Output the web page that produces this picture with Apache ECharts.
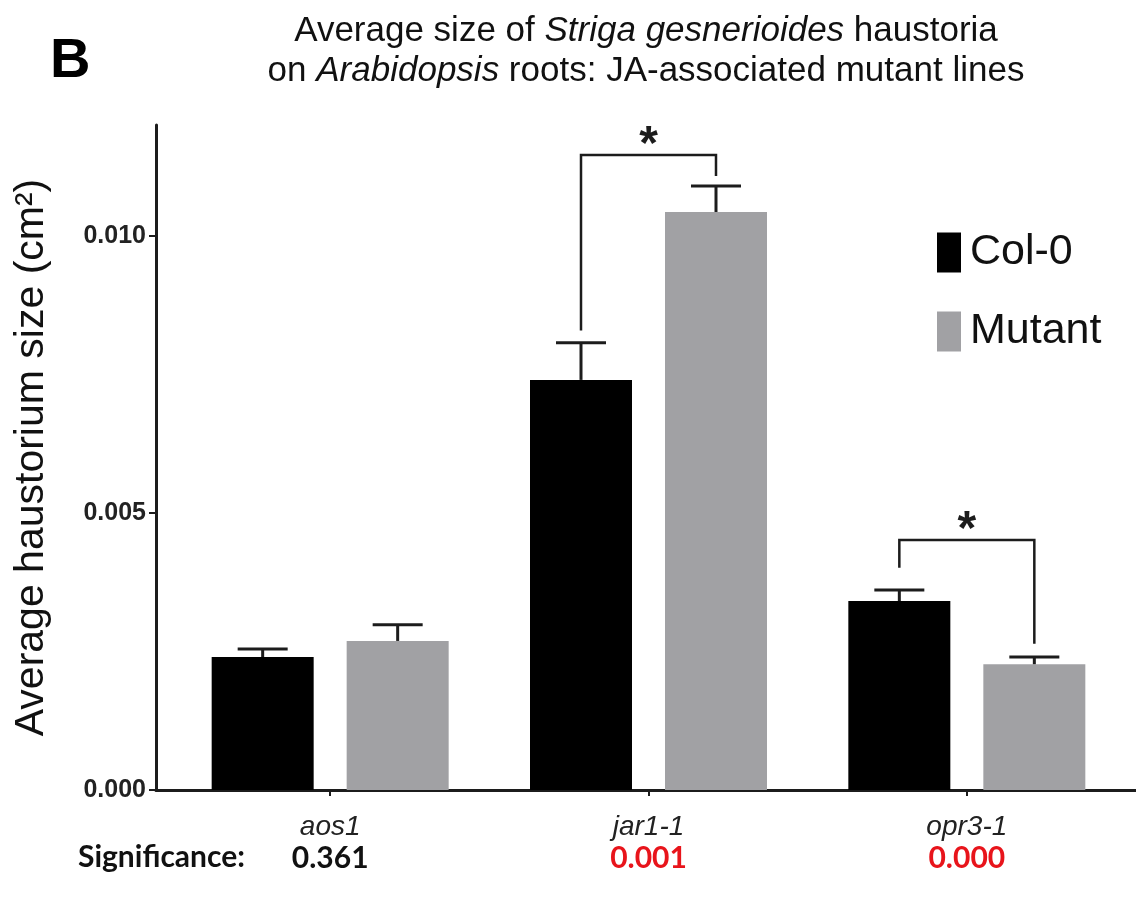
<!DOCTYPE html>
<html>
<head>
<meta charset="utf-8">
<script src="https://cdn.jsdelivr.net/npm/echarts@6/dist/echarts.min.js"></script>
<style>
  html, body { margin: 0; padding: 0; background: #ffffff; }
  #chart { width: 1136px; height: 900px; }
</style>
</head>
<body>
<div id="chart"></div>
<script>
// Mutant lines on the category axis
const lines = ['aos1', 'jar1-1', 'opr3-1'];
// Mean haustorium size (cm²) and standard error, wild type
const colMean = [0.00240, 0.00740, 0.00341];
const colErr = [0.000145, 0.00067, 0.00020];
// Mean haustorium size (cm²) and standard error, mutant
const mutMean = [0.00269, 0.01043, 0.00227];
const mutErr = [0.00029, 0.00047, 0.00013];
// Significance of the Col-0 vs mutant comparison
const pValues = ['0.361', '0.001', '0.000'];
// Value-axis ticks
const yTicks = [0, 0.005, 0.010];
const yMax = 0.012;
// Significance brackets: [line index, bracket level, left foot, right foot]
const brackets = [
  [1, 0.01146, 0.00829, 0.01108],
  [2, 0.00451, 0.00401, 0.00264]
];

const BAR_WIDTH = 102;
const BAR_GAP_RATIO = 0.3235;
const HALF_STEP = BAR_WIDTH * (1 + BAR_GAP_RATIO) / 2;
const INK = '#1c1c1c';
const GREY = '#a1a1a4';

const chart = echarts.init(document.getElementById('chart'));

function errorBarItem(sign) {
  return function (params, api) {
    const base = api.coord([api.value(0), api.value(1)]);
    const top = api.coord([api.value(0), api.value(1) + api.value(2)]);
    const x = base[0] + sign * HALF_STEP;
    const cap = 25;
    return {
      type: 'group',
      children: [
        { type: 'line', shape: { x1: x, y1: base[1], x2: x, y2: top[1] },
          style: { stroke: INK, lineWidth: 3 } },
        { type: 'line', shape: { x1: x - cap, y1: top[1], x2: x + cap, y2: top[1] },
          style: { stroke: INK, lineWidth: 3 } }
      ]
    };
  };
}

function bracketItem(params, api) {
  const idx = api.value(0);
  const lvl = api.coord([idx, api.value(1)]);
  const lf = api.coord([idx, api.value(2)]);
  const rf = api.coord([idx, api.value(3)]);
  const xl = lvl[0] - HALF_STEP;
  const xr = lvl[0] + HALF_STEP;
  return {
    type: 'group',
    children: [
      { type: 'polyline',
        shape: { points: [[xl, lf[1]], [xl, lvl[1]], [xr, lvl[1]], [xr, rf[1]]] },
        style: { stroke: INK, lineWidth: 2.5, fill: null } },
      { type: 'text',
        style: { text: '*', x: lvl[0], y: lvl[1] - 9, align: 'center', verticalAlign: 'middle',
                 font: 'bold 48px "Liberation Sans", Arial, sans-serif', fill: INK } }
    ]
  };
}

const TITLE_FONT = '"Liberation Sans Narrow", "Liberation Sans", Arial, sans-serif';

const option = {
  backgroundColor: '#ffffff',
  animation: false,
  graphic: [
    { type: 'text', left: 50, top: 34,
      style: { text: 'B', font: 'bold 56px "Liberation Sans", Arial, sans-serif', fill: '#000' } },
    { type: 'text', x: 646, y: 11,
      style: {
        text: '{n|Average size of }{i|Striga gesnerioides}{n| haustoria}\n{n|on }{i|Arabidopsis}{n| roots: JA-associated mutant lines}',
        align: 'center', verticalAlign: 'top',
        rich: {
          n: { font: '35px ' + TITLE_FONT, fill: '#111', lineHeight: 40 },
          i: { font: 'italic 35px ' + TITLE_FONT, fill: '#111', lineHeight: 40 }
        }
      } },
    { type: 'text', left: 78, top: 842,
      style: { text: 'Significance:', font: 'bold 30px Lato, "Open Sans", sans-serif', fill: '#111' } }
  ],
  legend: {
    orient: 'vertical',
    left: 932,
    top: 226,
    itemWidth: 24,
    itemHeight: 40,
    itemGap: 36,
    icon: 'rect',
    data: ['Col-0', 'Mutant'],
    textStyle: { fontSize: 43, color: '#111', fontFamily: '"Liberation Sans", Arial, sans-serif', padding: [0, 0, 0, 4] }
  },
  grid: [
    { left: 156, right: 0, top: 125, bottom: 110, containLabel: false },
    { left: 171, right: 10, top: 125, bottom: 110, containLabel: false }
  ],
  xAxis: [
    { type: 'value', gridIndex: 0, min: 0, max: 1,
      axisLine: { show: true, onZero: false, lineStyle: { color: INK, width: 3 } },
      axisTick: { show: false }, axisLabel: { show: false }, splitLine: { show: false } },
    { type: 'category', gridIndex: 1, data: lines,
      axisLine: { show: false },
      axisTick: { show: true, alignWithLabel: true, length: 6, lineStyle: { color: INK, width: 2 } },
      axisLabel: {
        margin: 22,
        formatter: function (value, index) {
          const sig = parseFloat(pValues[index]) < 0.05 ? 'red' : 'black';
          return '{cat|' + value + '}\n{' + sig + '|' + pValues[index] + '}';
        },
        rich: {
          cat: { fontSize: 28, fontStyle: 'italic', color: '#222', fontFamily: TITLE_FONT, lineHeight: 30 },
          black: { fontSize: 30, fontWeight: 'bold', color: '#111', fontFamily: 'Lato, "Open Sans", sans-serif', lineHeight: 32 },
          red: { fontSize: 30, fontWeight: 'bold', color: '#e8141b', fontFamily: 'Lato, "Open Sans", sans-serif', lineHeight: 32 }
        }
      },
      splitLine: { show: false } }
  ],
  yAxis: [
    { type: 'value', gridIndex: 0, min: 0, max: yMax,
      name: 'Average haustorium size (cm²)',
      nameLocation: 'middle',
      nameGap: 104,
      nameTextStyle: { fontSize: 41, color: '#111', fontFamily: '"Liberation Sans", Arial, sans-serif' },
      axisLine: { show: true, lineStyle: { color: INK, width: 3 } },
      axisTick: { show: true, length: 7, customValues: yTicks, lineStyle: { color: INK, width: 2 } },
      axisLabel: { show: true, margin: 10, customValues: yTicks,
        formatter: function (v) { return v.toFixed(3); },
        fontSize: 25, fontWeight: 'bold', color: '#222', fontFamily: '"Liberation Sans", Arial, sans-serif' },
      splitLine: { show: false } },
    { type: 'value', gridIndex: 1, min: 0, max: yMax, show: false, splitLine: { show: false } }
  ],
  series: [
    { name: 'Col-0', type: 'bar', xAxisIndex: 1, yAxisIndex: 1, data: colMean,
      barWidth: BAR_WIDTH, barGap: (BAR_GAP_RATIO * 100) + '%', itemStyle: { color: '#000000' } },
    { name: 'Mutant', type: 'bar', xAxisIndex: 1, yAxisIndex: 1, data: mutMean,
      barWidth: BAR_WIDTH, barGap: (BAR_GAP_RATIO * 100) + '%', itemStyle: { color: GREY } },
    { type: 'custom', xAxisIndex: 1, yAxisIndex: 1, renderItem: errorBarItem(-1),
      data: lines.map((_, i) => [i, colMean[i], colErr[i]]), z: 5 },
    { type: 'custom', xAxisIndex: 1, yAxisIndex: 1, renderItem: errorBarItem(1),
      data: lines.map((_, i) => [i, mutMean[i], mutErr[i]]), z: 5 },
    { type: 'custom', xAxisIndex: 1, yAxisIndex: 1, renderItem: bracketItem,
      data: brackets, z: 6 }
  ]
};

chart.setOption(option);
</script>
</body>
</html>
